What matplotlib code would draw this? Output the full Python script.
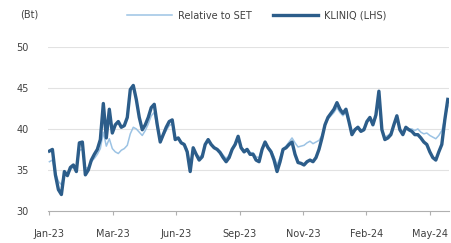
import numpy as np
import matplotlib.pyplot as plt

# KLINIQ share price (Bt), roughly every 3 px from Jan-23 to end of May-24
kliniq = [37.3, 37.5, 34.4, 32.6, 32.0, 34.8, 34.3, 35.3, 35.6, 34.8,
          38.3, 38.4, 34.4, 35.0, 36.2, 36.9, 37.5, 38.7, 43.1, 38.9,
          42.4, 39.5, 40.5, 40.9, 40.2, 40.4, 41.4, 44.8, 45.3, 43.6,
          41.4, 39.9, 40.5, 41.4, 42.6, 43.0, 40.5, 38.4, 39.3, 40.2,
          40.9, 41.1, 38.7, 38.9, 38.3, 38.1, 37.2, 34.8, 37.7, 36.9,
          36.2, 36.6, 38.1, 38.7, 38.1, 37.7, 37.5, 37.1, 36.5, 36.0,
          36.5, 37.5, 38.1, 39.1, 37.7, 37.2, 37.5, 36.9, 36.9, 36.2,
          36.0, 37.5, 38.4, 37.7, 37.2, 36.2, 34.8, 36.0, 37.5, 37.7,
          38.1, 38.4, 36.9, 35.9, 35.8, 35.6, 36.0, 36.2, 36.0, 36.5,
          37.5, 38.9, 40.5, 41.4, 41.9, 42.4, 43.2, 42.4, 41.9, 42.4,
          40.9, 39.3, 39.9, 40.2, 39.7, 39.9, 40.9, 41.4, 40.5, 41.7,
          44.6, 39.9, 38.7, 38.9, 39.3, 40.5, 41.6, 39.9, 39.3, 40.2,
          39.9, 39.7, 39.3, 39.3, 38.9, 38.4, 38.1, 37.2, 36.5, 36.2,
          37.2, 38.1, 41.1, 43.6]

# relative to SET index, same sampling
relative = [36.0, 36.2, 34.6, 33.6, 33.2, 34.6, 34.5, 35.0, 35.4, 35.0,
            37.4, 37.5, 35.2, 35.3, 36.0, 36.4, 36.9, 37.6, 39.6, 37.9,
            38.8, 37.6, 37.2, 37.0, 37.4, 37.6, 38.0, 39.4, 40.2, 40.0,
            39.6, 39.2, 39.8, 40.6, 41.6, 42.0, 40.2, 38.6, 39.2, 39.8,
            40.4, 40.6, 38.9, 38.9, 38.4, 38.2, 37.5, 35.6, 37.6, 37.0,
            36.6, 36.8, 38.0, 38.5, 38.1, 37.8, 37.6, 37.3, 36.8, 36.4,
            36.8, 37.6, 38.0, 38.8, 37.8, 37.4, 37.6, 37.1, 37.1, 36.6,
            36.5, 37.6, 38.3, 37.8, 37.4, 36.6, 35.6, 36.5, 37.6, 37.9,
            38.4, 38.9, 38.3, 37.8, 37.9, 38.0, 38.3, 38.5, 38.2, 38.4,
            38.6, 39.2, 40.4, 41.2, 41.6, 42.0, 42.6, 42.0, 41.6, 42.0,
            40.8, 39.6, 40.0, 40.3, 39.9, 40.0, 40.8, 41.2, 40.5, 41.4,
            43.4, 40.0, 39.0, 39.2, 39.5, 40.4, 41.2, 40.0, 39.6, 40.2,
            40.0, 40.0, 39.8, 40.0, 39.6, 39.4, 39.5, 39.2, 39.0, 38.8,
            39.2, 39.8, 41.2, 42.8]

tick_labels = ['Jan-23', 'Mar-23', 'Jun-23', 'Sep-23', 'Nov-23', 'Feb-24', 'May-24']

n = len(kliniq)
x = np.arange(n)
# month labels sit at equal spacing (63.5 px out of a 399 px data span)
tick_pos = [k * 63.5 * (n - 1) / 399 for k in range(len(tick_labels))]

fig = plt.figure(figsize=(4.52, 2.43), dpi=100)
ax = fig.add_axes([0.106, 0.132, 0.888, 0.675])

ax.plot(x, relative, color='#9cc3e4', lw=1.1, label='Relative to SET', zorder=3)
ax.plot(x, kliniq, color='#2c5d8a', lw=2.4, label='KLINIQ (LHS)', zorder=4)

ax.set_ylim(30, 50)
ax.set_xlim(-0.5, n - 0.5)
ax.set_yticks([30, 35, 40, 45, 50])
ax.set_xticks(tick_pos)
ax.set_xticklabels(tick_labels)

for v in [35, 40, 45, 50]:
    ax.axhline(v, color='#e2e2e2', lw=0.8, zorder=1)

for s in ['top', 'right', 'left']:
    ax.spines[s].set_visible(False)
ax.spines['bottom'].set_color('#b0b0b0')
ax.tick_params(axis='y', length=0, labelsize=7, colors='#404040', pad=14)
ax.tick_params(axis='x', length=3, color='#b0b0b0', labelsize=7, colors='#404040', pad=10)

fig.text(0.045, 0.94, '(Bt)', fontsize=7, color='#404040', va='center')
leg = ax.legend(loc='upper center', bbox_to_anchor=(0.52, 1.275), ncol=2, frameon=False,
                fontsize=7, handlelength=4.6, columnspacing=2.2, handletextpad=0.6)
for t in leg.get_texts():
    t.set_color('#404040')

plt.savefig('out.png', dpi=100)
